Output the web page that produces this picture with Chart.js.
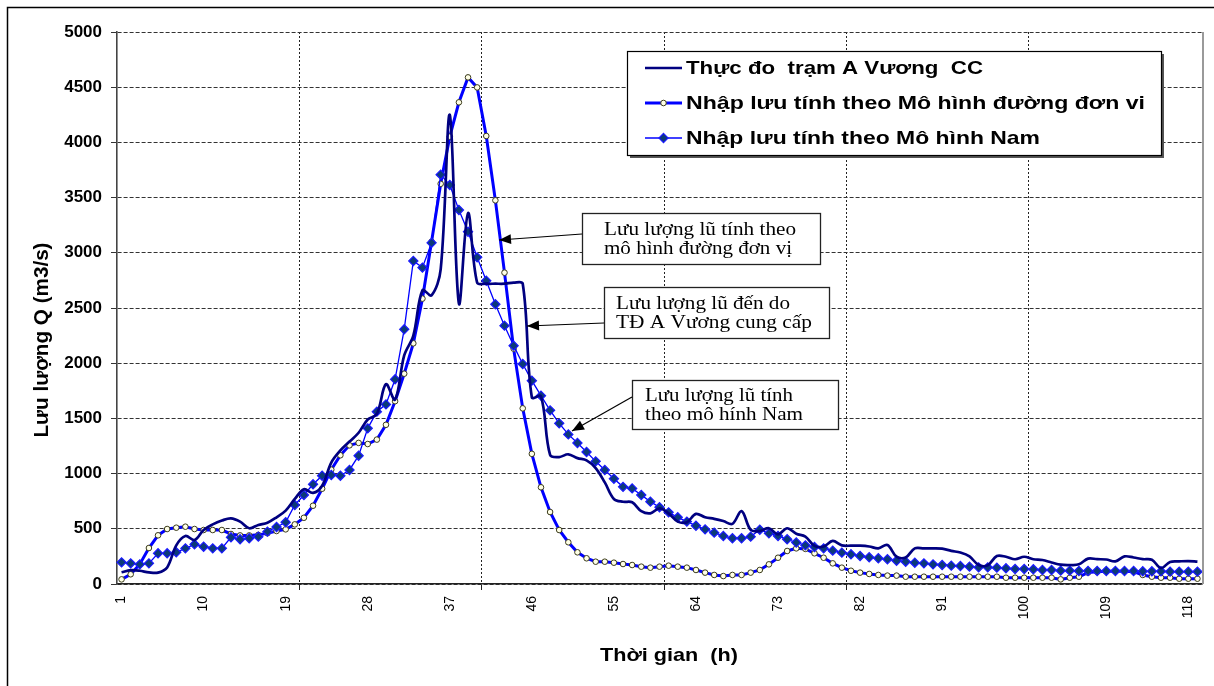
<!DOCTYPE html>
<html>
<head>
<meta charset="utf-8">
<script src="https://cdn.jsdelivr.net/npm/chart.js@4.4.1/dist/chart.umd.min.js"></script>
<style>
  html, body { margin: 0; padding: 0; background: #fff; }
  #wrap { width: 1214px; height: 686px; }
</style>
</head>
<body>
<div id="wrap"><canvas id="luuLuong" width="1214" height="686"></canvas></div>
<script>
// Thời gian (h): 1..119
const hours = Array.from({ length: 119 }, (_, i) => String(i + 1));

// Thực đo trạm A Vương CC
const thucDo = [
  106, 125, 120, 105, 103, 150, 350, 435, 398, 490,
  540, 575, 595, 565, 505, 535, 555, 604, 665, 770,
  858, 825, 890, 1100, 1210, 1290, 1370, 1490, 1540, 1810,
  1670, 2070, 2250, 2660, 2615, 2850, 4250, 2540, 3360, 2730,
  2720, 2720, 2720, 2730, 2720, 1690, 1700, 1170, 1150, 1175,
  1140, 1120, 1050, 920, 770, 745, 740, 660, 640, 685,
  640, 565, 560, 635, 605, 590, 570, 545, 660, 490,
  480, 505, 450, 505, 455, 430, 345, 340, 390, 350,
  347, 347, 340, 323, 353, 247, 240, 323, 323, 323,
  320, 300, 285, 250, 172, 170, 254, 247, 224, 247,
  224, 217, 195, 175, 172, 178, 230, 225, 222, 205,
  250, 240, 225, 220, 145, 200, 205, 208, 202
];

// Nhập lưu tính theo Mô hình đường đơn vị
const donVi = [
  42, 88, 180, 326, 441, 498, 510, 519, 498, 489,
  489, 489, 453, 440, 440, 445, 460, 480, 495, 540,
  600, 709, 863, 1036, 1166, 1256, 1278, 1268, 1308, 1442,
  1656, 1905, 2180, 2585, 3100, 3625, 4052, 4363, 4589, 4498,
  4058, 3475, 2820, 2132, 1591, 1179, 876, 652, 489, 378,
  287, 233, 202, 202, 193, 181, 172, 157, 148, 157,
  166, 157, 148, 127, 103, 82, 72, 82, 82, 103,
  127, 178, 238, 299, 323, 318, 278, 238, 187, 148,
  120, 103, 91, 82, 76, 76, 66, 66, 66, 66,
  66, 66, 66, 66, 66, 66, 66, 57, 57, 57,
  57, 57, 57, 42, 57, 66, 103, 112, 115, 115,
  115, 112, 82, 66, 57, 57, 48, 48, 48
];

// Nhập lưu tính theo Mô hình Nam
const nam = [
  196, 187, 178, 187, 278, 278, 287, 323, 359, 338,
  323, 323, 423, 405, 414, 429, 474, 516, 559, 716,
  806, 903, 981, 987, 981, 1033, 1162, 1410, 1561, 1627,
  1854, 2307, 2926, 2866, 3090, 3708, 3614, 3388, 3191, 2959,
  2747, 2534, 2340, 2159, 1993, 1842, 1706, 1573, 1455, 1355,
  1277, 1196, 1111, 1033, 954, 880, 866, 806, 746, 695,
  649, 604, 565, 528, 495, 465, 435, 414, 414, 429,
  492, 459, 435, 405, 376, 350, 335, 323, 302, 284,
  269, 254, 242, 233, 224, 211, 202, 193, 187, 178,
  172, 166, 163, 157, 151, 151, 148, 142, 136, 136,
  133, 127, 127, 121, 121, 118, 118, 118, 118, 118,
  118, 118, 115, 115, 115, 112, 112, 112, 112
];

const seriesNames = [
  'Thực đo  trạm A Vương  CC',
  'Nhập lưu tính theo Mô hình đường đơn vi',
  'Nhập lưu tính theo Mô hình Nam'
];

const yTitle = 'Lưu lượng Q (m3/s)';
const xTitle = 'Thời gian  (h)';

// ghi chú kèm mũi tên
const notes = [
  { lines: ['Lưu lượng lũ tính theo', 'mô hình đường đơn vị'], fit: [192, 188], box: [582, 213, 238, 51], tx: 604, from: [582, 234], to: [499, 240] },
  { lines: ['Lưu lượng lũ đến do', 'TĐ A Vương cung cấp'], fit: [174, 196], box: [604, 287, 225, 51], tx: 616, from: [604, 323], to: [527, 326] },
  { lines: ['Lưu lượng lũ tính', 'theo mô hính Nam'], fit: [148, 158], box: [632, 380, 206, 49], tx: 645, from: [632, 397], to: [572, 431] }
];

function drawFit(c, text, x, y, width) {
  const w = c.measureText(text).width;
  c.save();
  c.translate(x, y);
  c.scale(width / w, 1);
  c.fillText(text, 0, 0);
  c.restore();
}

function arrow(c, x1, y1, x2, y2) {
  c.beginPath();
  c.moveTo(x1, y1);
  c.lineTo(x2, y2);
  c.stroke();
  const ang = Math.atan2(y2 - y1, x2 - x1);
  const len = 12, half = 5;
  c.beginPath();
  c.moveTo(x2, y2);
  c.lineTo(x2 - len * Math.cos(ang) + half * Math.sin(ang), y2 - len * Math.sin(ang) - half * Math.cos(ang));
  c.lineTo(x2 - len * Math.cos(ang) - half * Math.sin(ang), y2 - len * Math.sin(ang) + half * Math.cos(ang));
  c.closePath();
  c.fill();
}

const decor = {
  id: 'decor',
  afterDraw(chart) {
    const c = chart.ctx;
    const a = chart.chartArea;
    c.save();

    // khung ngoài
    c.strokeStyle = '#000';
    c.lineWidth = 1.5;
    c.beginPath();
    c.moveTo(7.5, 690); c.lineTo(7.5, 7.5); c.lineTo(1220, 7.5);
    c.stroke();

    // viền phải của vùng vẽ
    c.strokeStyle = '#9a9a9a';
    c.lineWidth = 2;
    c.beginPath();
    c.moveTo(a.right + 1, a.top); c.lineTo(a.right + 1, a.bottom);
    c.stroke();

    // tiêu đề trục
    c.fillStyle = '#000';
    c.font = "bold 20px 'Liberation Sans', Arial";
    c.textAlign = 'center';
    c.textBaseline = 'middle';
    c.save();
    c.translate(42, 340);
    c.rotate(-Math.PI / 2);
    drawFit(c, yTitle, 0, 0, 195);
    c.restore();
    c.font = "bold 19px 'Liberation Sans', Arial";
    drawFit(c, xTitle, 669, 656, 138);

    // chú giải
    const L = { x: 627, y: 51, w: 534, h: 104 };
    c.fillStyle = '#555';
    c.fillRect(L.x + 3, L.y + 3, L.w, L.h);
    c.fillStyle = '#fff';
    c.fillRect(L.x, L.y, L.w, L.h);
    c.strokeStyle = '#000';
    c.lineWidth = 1.2;
    c.strokeRect(L.x + 0.5, L.y + 0.5, L.w, L.h);

    const rows = [68, 103, 138];
    const widths = [297, 459, 354];
    const ds = chart.data.datasets;
    rows.forEach((ry, i) => {
      const d = ds[i];
      c.strokeStyle = d.borderColor;
      c.lineWidth = d.borderWidth;
      c.beginPath(); c.moveTo(645, ry); c.lineTo(682, ry); c.stroke();
      if (d.pointRadius > 0) {
        c.fillStyle = d.pointBackgroundColor;
        c.strokeStyle = d.pointBorderColor;
        c.lineWidth = d.pointBorderWidth;
        c.beginPath();
        if (d.pointStyle === 'circle') {
          c.arc(663.5, ry, d.pointRadius, 0, Math.PI * 2);
        } else {
          const r = d.pointRadius;
          c.moveTo(663.5, ry - r); c.lineTo(663.5 + r, ry); c.lineTo(663.5, ry + r); c.lineTo(663.5 - r, ry); c.closePath();
        }
        c.fill(); c.stroke();
      }
      c.fillStyle = '#000';
      c.font = "bold 19px 'Liberation Sans', Arial";
      c.textAlign = 'left';
      c.textBaseline = 'middle';
      drawFit(c, seriesNames[i], 686, ry + 1, widths[i]);
    });

    // ghi chú
    c.font = "18px 'Liberation Serif', 'Times New Roman'";
    c.textAlign = 'left';
    c.textBaseline = 'middle';
    notes.forEach(n => {
      const [bx, by, bw, bh] = n.box;
      c.fillStyle = '#fff';
      c.fillRect(bx, by, bw, bh);
      c.strokeStyle = '#222';
      c.lineWidth = 1.3;
      c.strokeRect(bx + 0.5, by + 0.5, bw, bh);
      c.fillStyle = '#000';
      drawFit(c, n.lines[0], n.tx, by + bh * 0.33, n.fit[0]);
      drawFit(c, n.lines[1], n.tx, by + bh * 0.72, n.fit[1]);
      c.strokeStyle = '#000';
      c.lineWidth = 1.2;
      arrow(c, n.from[0], n.from[1], n.to[0], n.to[1]);
    });

    c.restore();
  }
};

const showGrid = (ctx) => ctx.index > 0 && ctx.index % 20 === 0;

new Chart(document.getElementById('luuLuong').getContext('2d'), {
  type: 'line',
  data: {
    labels: hours,
    datasets: [
      {
        label: seriesNames[0], data: thucDo,
        borderColor: '#000080', borderWidth: 2.7,
        pointRadius: 0, tension: 0.35, order: 0
      },
      {
        label: seriesNames[1], data: donVi,
        borderColor: '#0000ff', borderWidth: 3,
        pointStyle: 'circle', pointRadius: 2.8,
        pointBackgroundColor: '#ffffe6', pointBorderColor: '#3a3a1a', pointBorderWidth: 1,
        tension: 0, order: 2
      },
      {
        label: seriesNames[2], data: nam,
        borderColor: '#0000ff', borderWidth: 1.3,
        pointStyle: 'rectRot', pointRadius: 4.6,
        pointBackgroundColor: '#0b3a78', pointBorderColor: '#1a1aff', pointBorderWidth: 1.2,
        tension: 0, order: 1
      }
    ]
  },
  options: {
    responsive: false,
    animation: false,
    devicePixelRatio: 1,
    layout: { padding: { left: 0, top: 32, right: 12, bottom: 0 } },
    plugins: { legend: { display: false }, tooltip: { enabled: false } },
    scales: {
      x: {
        offset: true,
        grid: {
          offset: true,
          color: (ctx) => showGrid(ctx) ? '#222' : 'rgba(0,0,0,0)',
          tickColor: (ctx) => showGrid(ctx) ? '#222' : 'rgba(0,0,0,0)',
          tickLength: 6,
          lineWidth: 1
        },
        border: { color: '#222', width: 1.6, dash: [2, 2] },
        ticks: {
          autoSkip: false, maxRotation: 90, minRotation: 90, padding: 6,
          color: '#000',
          font: { family: "'Liberation Sans', Arial", size: 14 },
          callback: (v, i) => (i % 9 === 0 ? hours[i] : '')
        },
        afterFit: (s) => { s.height = 102; s.paddingLeft = 0; s.paddingRight = 0; }
      },
      y: {
        min: 0, max: 5000,
        ticks: {
          stepSize: 500, padding: 9, color: '#000',
          font: { family: "'Liberation Sans', Arial", size: 17, weight: 'bold' },
          callback: (v) => String(v)
        },
        grid: { color: '#333', lineWidth: 1, tickLength: 6, tickColor: '#333' },
        border: { color: '#444', width: 1.6, dash: [4, 2] },
        afterFit: (s) => { s.width = 117; }
      }
    }
  },
  plugins: [decor]
});
</script>
</body>
</html>
